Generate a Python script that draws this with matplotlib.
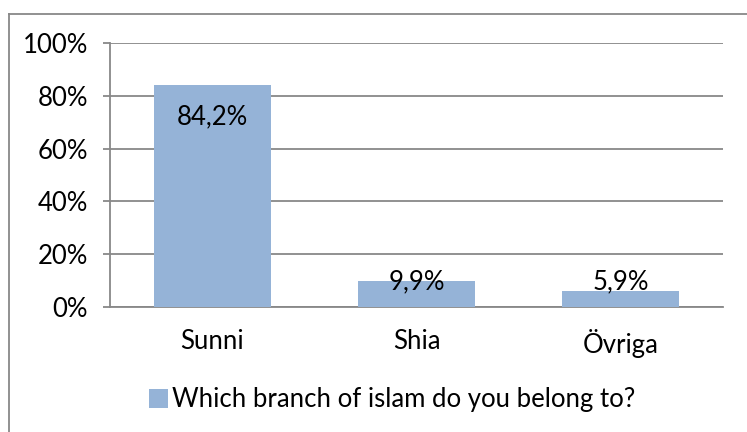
import matplotlib
matplotlib.use("Agg")
import matplotlib.pyplot as plt
from matplotlib.lines import Line2D
from matplotlib.patches import Patch

categories = ["Sunni", "Shia", "Övriga"]
values = [84.2, 9.9, 5.9]
value_labels = ["84,2%", "9,9%", "5,9%"]
yticks = [0, 20, 40, 60, 80, 100]
ytick_labels = ["0%", "20%", "40%", "60%", "80%", "100%"]
series_name = "Which branch of islam do you belong to?"

W, H = 747, 432
fig = plt.figure(figsize=(W / 100, H / 100), dpi=100)
plt.rcParams['font.family'] = ['Lato', 'DejaVu Sans']

bar_color = "#95B3D7"
grid_color = "#888888"
fs = 18.5

# plot area in pixels
left, right, top, bottom = 110, 723, 43, 307
ax = fig.add_axes([left / W, 1 - bottom / H, (right - left) / W, (bottom - top) / H])
ax.set_xlim(-0.5, 2.5)
ax.set_ylim(0, 100)

x = list(range(len(categories)))
bars = ax.bar(x, values, width=0.573, color=bar_color, zorder=3)

ax.set_yticks(yticks)
ax.set_yticklabels(ytick_labels, fontsize=fs)
ax.yaxis.grid(True, color=grid_color, linewidth=1.3, zorder=0)
ax.set_xticks(x)
ax.set_xticklabels(categories, fontsize=fs)
ax.tick_params(axis='x', length=0, pad=16)
ax.tick_params(axis='y', length=5, width=1.3, color=grid_color, pad=11)
for s in ["top", "right"]:
    ax.spines[s].set_visible(False)
ax.spines["left"].set_color(grid_color)
ax.spines["left"].set_linewidth(1.3)
ax.spines["bottom"].set_color(grid_color)
ax.spines["bottom"].set_linewidth(1.3)

for xi, v, lab in zip(x, values, value_labels):
    ty = max(v - 12.2, 9.5)
    ax.text(xi, ty, lab, ha="center", va="center", fontsize=fs, zorder=4)

handle = Patch(facecolor=bar_color, edgecolor="none")
fig.legend([handle], [series_name], loc="center", bbox_to_anchor=(392 / W, 1 - 400 / H),
           frameon=False, fontsize=fs, handlelength=0.75, handleheight=0.75, handletextpad=0.15)

# figure border (top and left visible)
fig.add_artist(Line2D([8.5 / W, 1.0], [1 - 13.5 / H, 1 - 13.5 / H], transform=fig.transFigure,
                      color="#888888", linewidth=1.3))
fig.add_artist(Line2D([8.5 / W, 8.5 / W], [1 - 13.5 / H, 0], transform=fig.transFigure,
                      color="#888888", linewidth=1.3))

fig.savefig("out.png", dpi=100)
